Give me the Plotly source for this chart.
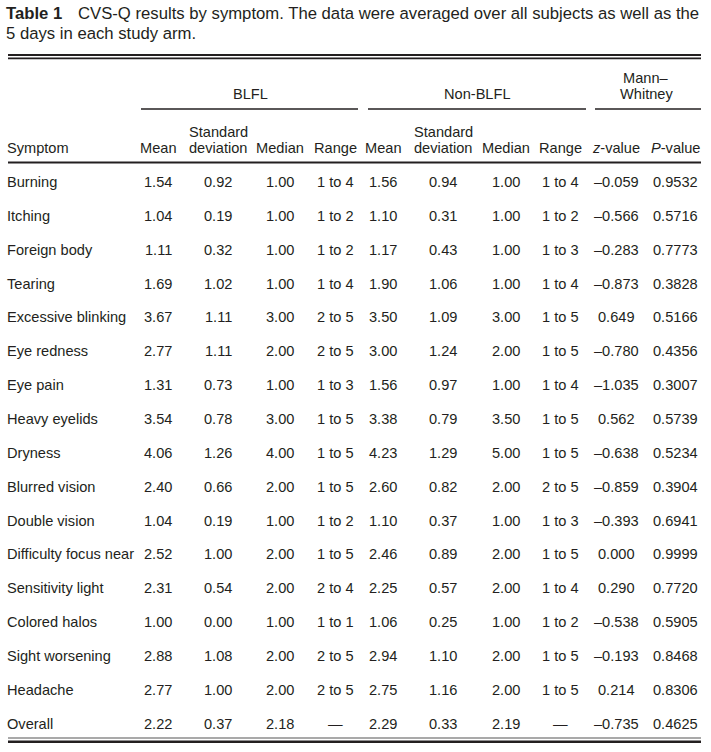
import plotly.graph_objects as go

# ---------------- data ----------------
symptoms = ["Burning", "Itching", "Foreign body", "Tearing", "Excessive blinking",
            "Eye redness", "Eye pain", "Heavy eyelids", "Dryness", "Blurred vision",
            "Double vision", "Difficulty focus near", "Sensitivity light",
            "Colored halos", "Sight worsening", "Headache", "Overall"]
blfl_mean = ["1.54", "1.04", "1.11", "1.69", "3.67", "2.77", "1.31", "3.54", "4.06",
             "2.40", "1.04", "2.52", "2.31", "1.00", "2.88", "2.77", "2.22"]
blfl_sd = ["0.92", "0.19", "0.32", "1.02", "1.11", "1.11", "0.73", "0.78", "1.26",
           "0.66", "0.19", "1.00", "0.54", "0.00", "1.08", "1.00", "0.37"]
blfl_median = ["1.00", "1.00", "1.00", "1.00", "3.00", "2.00", "1.00", "3.00", "4.00",
               "2.00", "1.00", "2.00", "2.00", "1.00", "2.00", "2.00", "2.18"]
blfl_range = ["1 to 4", "1 to 2", "1 to 2", "1 to 4", "2 to 5", "2 to 5", "1 to 3",
              "1 to 5", "1 to 5", "1 to 5", "1 to 2", "1 to 5", "2 to 4", "1 to 1",
              "2 to 5", "2 to 5", "—"]
non_mean = ["1.56", "1.10", "1.17", "1.90", "3.50", "3.00", "1.56", "3.38", "4.23",
            "2.60", "1.10", "2.46", "2.25", "1.06", "2.94", "2.75", "2.29"]
non_sd = ["0.94", "0.31", "0.43", "1.06", "1.09", "1.24", "0.97", "0.79", "1.29",
          "0.82", "0.37", "0.89", "0.57", "0.25", "1.10", "1.16", "0.33"]
non_median = ["1.00", "1.00", "1.00", "1.00", "3.00", "2.00", "1.00", "3.50", "5.00",
              "2.00", "1.00", "2.00", "2.00", "1.00", "2.00", "2.00", "2.19"]
non_range = ["1 to 4", "1 to 2", "1 to 3", "1 to 4", "1 to 5", "1 to 5", "1 to 4",
             "1 to 5", "1 to 5", "2 to 5", "1 to 3", "1 to 5", "1 to 4", "1 to 2",
             "1 to 5", "1 to 5", "—"]
z_value = ["–0.059", "–0.566", "–0.283", "–0.873", "0.649", "–0.780", "–1.035",
           "0.562", "–0.638", "–0.859", "–0.393", "0.000", "0.290", "–0.538",
           "–0.193", "0.214", "–0.735"]
p_value = ["0.9532", "0.5716", "0.7773", "0.3828", "0.5166", "0.4356", "0.3007",
           "0.5739", "0.5234", "0.3904", "0.6941", "0.9999", "0.7720", "0.5905",
           "0.8468", "0.8306", "0.4625"]

group_labels = ["BLFL", "Non-BLFL", "Mann–|Whitney"]
col_headers = ["Mean", "Standard|deviation", "Median", "Range",
               "Mean", "Standard|deviation", "Median", "Range",
               "<i>z</i>-value", "<i>P</i>-value"]
title_bold = "Table 1"
title_text = "CVS-Q results by symptom. The data were averaged over all subjects as well as the"
title_text2 = "5 days in each study arm."

# ---------------- layout constants ----------------
W, H = 711, 752
FONT = "Liberation Sans, Arial, Helvetica, sans-serif"
INK = "#231F20"
BODY = 14.6
TITLE = 16.7
col_x = [158, 218, 280, 335, 383, 443, 506, 560, 616, 675]
group_x = [250, 477, 646]
group_lines = [(141, 358), (368, 586), (595, 701)]
row_y0, row_step = 182, 33.85
header_y = 148
group_y = 94
line_gap = 16.5

columns = [blfl_mean, blfl_sd, blfl_median, blfl_range,
           non_mean, non_sd, non_median, non_range, z_value, p_value]

fig = go.Figure()
fig.add_trace(go.Scatter(x=[0, W], y=[0, H], mode="markers",
                         marker=dict(opacity=0), hoverinfo="skip", showlegend=False))

ann = []
def txt(x, y, t, xanchor="center", size=BODY, yanchor="middle"):
    ann.append(dict(x=x, y=y, xref="x", yref="y", text=t, showarrow=False,
                    xanchor=xanchor, yanchor=yanchor,
                    font=dict(family=FONT, size=size, color=INK)))

def stacked(x, y_bottom, t):
    parts = t.split("|")
    n = len(parts)
    for k, p in enumerate(parts):
        txt(x, y_bottom - (n - 1 - k) * line_gap, p)

# title
txt(4, 13, "<b>" + title_bold + "</b>", xanchor="left", size=TITLE)
txt(76, 13, title_text, xanchor="left", size=TITLE)
txt(4, 33, title_text2, xanchor="left", size=TITLE)

# group headers
for gx, gl in zip(group_x, group_labels):
    stacked(gx, group_y, gl)

# column headers
txt(5, header_y, "Symptom", xanchor="left")
for cx, ch in zip(col_x, col_headers):
    stacked(cx, header_y, ch)

# body
for i, s in enumerate(symptoms):
    y = row_y0 + i * row_step
    txt(5, y, s, xanchor="left")
    for cx, col in zip(col_x, columns):
        txt(cx, y, col[i])

shapes = []
def hline(x0, x1, y, w, color=INK):
    shapes.append(dict(type="line", xref="x", yref="y", x0=x0, x1=x1, y0=y, y1=y,
                       line=dict(color=color, width=w)))

hline(8, 701, 55, 1.8)
hline(8, 701, 58.3, 1.8)
for a, b in group_lines:
    hline(a, b, 109, 1.6)
hline(8, 701, 162.5, 2)
hline(8, 701, 738, 1.2, "#555")
hline(8, 701, 741.8, 2.4)

fig.update_layout(
    width=W, height=H, margin=dict(l=0, r=0, t=0, b=0),
    paper_bgcolor="white", plot_bgcolor="white",
    xaxis=dict(range=[0, W], visible=False, fixedrange=True),
    yaxis=dict(range=[H, 0], visible=False, fixedrange=True),
    annotations=ann, shapes=shapes, showlegend=False,
)
fig.write_html("out.html", config={"displayModeBar": False},
               post_script="document.body.style.margin='0px';document.body.style.overflow='hidden';")
